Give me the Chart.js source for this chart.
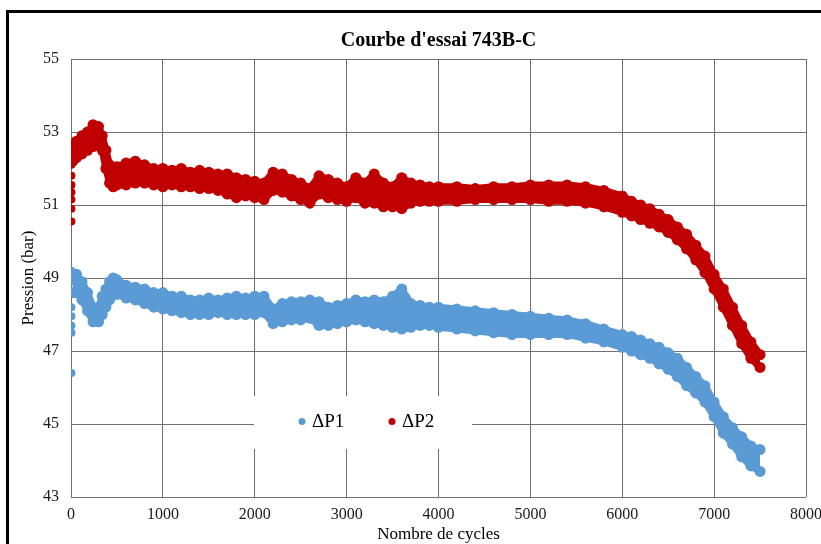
<!DOCTYPE html>
<html>
<head>
<meta charset="utf-8">
<script src="https://cdn.jsdelivr.net/npm/chart.js@4.4.1/dist/chart.umd.min.js"></script>
<style>
  html, body { margin: 0; padding: 0; background: #fff; overflow: hidden; }
  #wrap { position: absolute; left: 0; top: 0; width: 840px; height: 560px; }
</style>
</head>
<body>
<div id="wrap"><canvas id="chart" width="840" height="560"></canvas></div>
<script>
// values (upper / lower edge of each band)
const cycles = [20, 60, 120, 180, 240, 300, 340, 380, 420, 460, 500,
  600, 700, 800, 900, 1000, 1100, 1200, 1300, 1400, 1500, 1600, 1700, 1800, 1900,
  2000, 2100, 2200, 2300, 2400, 2500, 2600, 2700, 2800, 2900,
  3000, 3100, 3200, 3300, 3400, 3500, 3600, 3700, 3800, 3900,
  4000, 4200, 4400, 4600, 4800, 5000, 5200, 5400, 5600, 5800,
  6000, 6100, 6200, 6300, 6400, 6500, 6600, 6700, 6800, 6900,
  7000, 7100, 7200, 7300, 7400, 7500];

const p1High = [49.1, 49.1, 48.9, 48.6, 48.2, 48.2, 48.5, 48.7, 48.9, 49.0, 48.95,
  48.8, 48.75, 48.7, 48.6, 48.6, 48.5, 48.5, 48.4, 48.4, 48.45, 48.4, 48.45, 48.5, 48.45,
  48.5, 48.5, 48.15, 48.3, 48.35, 48.35, 48.4, 48.35, 48.2, 48.25,
  48.3, 48.4, 48.35, 48.4, 48.35, 48.5, 48.7, 48.3, 48.25, 48.2,
  48.2, 48.15, 48.1, 48.05, 48.0, 47.95, 47.9, 47.85, 47.75, 47.6,
  47.45, 47.4, 47.3, 47.2, 47.1, 46.95, 46.8, 46.55, 46.3, 46.05,
  45.6, 45.2, 44.9, 44.65, 44.4, 44.3];

const p1Low = [48.6, 48.6, 48.4, 48.1, 47.8, 47.8, 48.0, 48.2, 48.4, 48.55, 48.55,
  48.45, 48.4, 48.3, 48.2, 48.15, 48.1, 48.05, 48.0, 48.0, 48.0, 48.05, 48.0, 48.0, 48.0,
  48.0, 48.05, 47.75, 47.8, 47.85, 47.85, 47.9, 47.7, 47.7, 47.75,
  47.8, 47.85, 47.8, 47.75, 47.7, 47.65, 47.6, 47.65, 47.7, 47.7,
  47.65, 47.6, 47.55, 47.5, 47.45, 47.45, 47.45, 47.45, 47.35, 47.25,
  47.1, 47.0, 46.9, 46.8, 46.65, 46.5, 46.3, 46.05, 45.85, 45.6,
  45.2, 44.75, 44.45, 44.1, 43.85, 43.7];

const p2High = [52.6, 52.75, 52.9, 53.0, 53.2, 53.15, 52.9, 52.5, 52.1, 52.0, 52.05,
  52.15, 52.2, 52.1, 52.0, 52.0, 51.95, 52.0, 51.9, 51.95, 51.9, 51.85, 51.85, 51.75, 51.7,
  51.65, 51.6, 51.9, 51.85, 51.7, 51.6, 51.45, 51.8, 51.7, 51.6,
  51.5, 51.75, 51.6, 51.85, 51.6, 51.5, 51.75, 51.6, 51.55, 51.5,
  51.5, 51.5, 51.45, 51.5, 51.5, 51.55, 51.55, 51.55, 51.5, 51.4,
  51.25, 51.1, 51.0, 50.9, 50.75, 50.6, 50.4, 50.2, 49.9, 49.6,
  49.1, 48.7, 48.2, 47.7, 47.25, 46.9];

const p2Low = [52.2, 52.3, 52.4, 52.5, 52.6, 52.65, 52.5, 52.0, 51.6, 51.5, 51.55,
  51.55, 51.6, 51.6, 51.55, 51.5, 51.55, 51.5, 51.5, 51.45, 51.45, 51.4, 51.3, 51.2, 51.25,
  51.2, 51.15, 51.4, 51.35, 51.25, 51.15, 51.05, 51.3, 51.2, 51.15,
  51.1, 51.2, 51.05, 51.05, 50.95, 50.95, 50.9, 51.05, 51.1, 51.1,
  51.1, 51.1, 51.15, 51.15, 51.15, 51.15, 51.1, 51.1, 51.05, 50.95,
  50.8, 50.7, 50.6, 50.5, 50.4, 50.25, 50.05, 49.8, 49.5, 49.15,
  48.7, 48.2, 47.7, 47.2, 46.8, 46.55];

// scattered start-up readings at the very first cycles
const startCycle = 5;
const p1Start = [49.2, 48.9, 48.6, 48.2, 47.95, 47.7, 47.5, 46.4];
const p2Start = [52.4, 52.1, 51.8, 51.55, 51.35, 51.15, 50.9, 50.55];

const xTicks = [0, 1000, 2000, 3000, 4000, 5000, 6000, 7000, 8000];
const yTicks = [43, 45, 47, 49, 51, 53, 55];

const BLUE = "#5b9bd5";
const RED = "#c00000";
const SERIF = '"Liberation Serif", "Times New Roman", serif';

const toPoints = (ys) => ys.map((v, i) => ({ x: cycles[i], y: v }));
const startPoints = (ys) => ys.map((v) => ({ x: startCycle, y: v }));

function bandEdge(label, color, ys, fill) {
  return {
    label: label,
    data: toPoints(ys),
    showLine: true,
    fill: fill,
    borderColor: color,
    backgroundColor: color,
    borderWidth: 7,
    borderJoinStyle: "round",
    tension: 0,
    pointRadius: 5.5,
    pointBorderWidth: 0,
    pointBackgroundColor: color,
  };
}

const framePlugin = {
  id: "frame",
  beforeDraw(chart) {
    const ctx = chart.ctx;
    ctx.save();
    ctx.fillStyle = "#fff";
    ctx.fillRect(0, 0, chart.width, chart.height);
    ctx.strokeStyle = "#000";
    ctx.lineWidth = 3;
    ctx.strokeRect(7.5, 11.5, chart.width, chart.height);
    ctx.restore();
  },
};

// legend box sitting inside the plot area
const innerLegend = {
  id: "innerLegend",
  afterDatasetsDraw(chart, args, opts) {
    const ctx = chart.ctx;
    const items = chart.data.datasets
      .filter((d) => d.legend)
      .sort((a, b) => a.legendOrder - b.legendOrder);
    ctx.save();
    ctx.fillStyle = "#fff";
    ctx.fillRect(opts.left, opts.top, opts.width, opts.height);
    ctx.font = "19px " + SERIF;
    ctx.textBaseline = "middle";
    const cy = opts.top + opts.height / 2 - 1;
    items.forEach((d, i) => {
      const x = opts.left + opts.firstDot + i * opts.step;
      ctx.fillStyle = d.borderColor;
      ctx.beginPath();
      ctx.arc(x, cy, 3.5, 0, Math.PI * 2);
      ctx.fill();
      ctx.fillStyle = "#000";
      ctx.fillText(d.legend, x + 10, cy + 1);
    });
    ctx.restore();
  },
};

const ctx = document.getElementById("chart").getContext("2d");

new Chart(ctx, {
  type: "scatter",
  data: {
    datasets: [
      Object.assign(bandEdge("p2High", RED, p2High, "+1"), { legend: "ΔP2", legendOrder: 2 }),
      bandEdge("p2Low", RED, p2Low, false),
      Object.assign(bandEdge("p1High", BLUE, p1High, "+1"), { legend: "ΔP1", legendOrder: 1 }),
      bandEdge("p1Low", BLUE, p1Low, false),
      { label: "p1Start", data: startPoints(p1Start), pointRadius: 4, pointBorderWidth: 0, backgroundColor: BLUE, borderColor: BLUE },
      { label: "p2Start", data: startPoints(p2Start), pointRadius: 4, pointBorderWidth: 0, backgroundColor: RED, borderColor: RED },
    ],
  },
  options: {
    responsive: false,
    animation: false,
    layout: { padding: { top: 20, left: 18, right: 34, bottom: 15 } },
    plugins: {
      legend: { display: false },
      tooltip: { enabled: false },
      title: {
        display: true,
        text: "Courbe d'essai 743B-C",
        fullSize: false,
        color: "#000",
        font: { family: SERIF, size: 20, weight: "bold" },
        padding: { top: 9, bottom: 6 },
      },
      innerLegend: { left: 254, top: 396, width: 218, height: 53, firstDot: 48, step: 90 },
    },
    scales: {
      x: {
        type: "linear",
        min: 0,
        max: 8000,
        afterBuildTicks: (scale) => { scale.ticks = xTicks.map((v) => ({ value: v })); },
        afterFit: (scale) => { scale.height = 48; },
        grid: { color: "#707070", lineWidth: 1, drawTicks: false },
        border: { display: false },
        ticks: {
          color: "#1a1a1a",
          padding: 8,
          maxRotation: 0,
          font: { family: SERIF, size: 16 },
          callback: (value) => String(value),
        },
        title: { display: true, text: "Nombre de cycles", color: "#000", padding: 0, font: { family: SERIF, size: 17 } },
      },
      y: {
        min: 43,
        max: 55,
        afterBuildTicks: (scale) => { scale.ticks = yTicks.map((v) => ({ value: v })); },
        afterFit: (scale) => { scale.width = 53; },
        grid: { color: "#707070", lineWidth: 1, drawTicks: false },
        border: { display: false },
        ticks: {
          color: "#1a1a1a",
          padding: 12,
          font: { family: SERIF, size: 16 },
          callback: (value) => String(value),
        },
        title: { display: true, text: "Pression (bar)", color: "#000", padding: 0, font: { family: SERIF, size: 17 } },
      },
    },
  },
  plugins: [framePlugin, innerLegend],
});
</script>
</body>
</html>
